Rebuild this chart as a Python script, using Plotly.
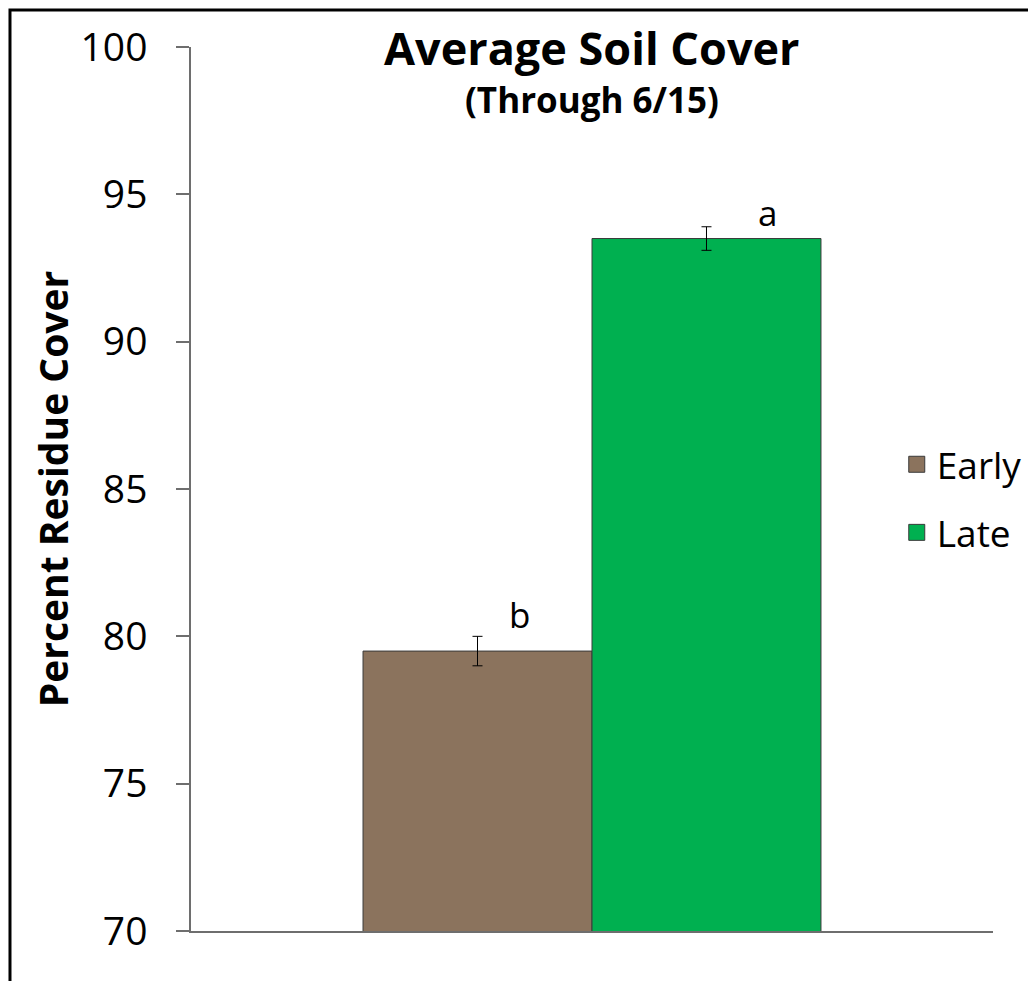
import plotly.graph_objects as go

# Data
categories = ["Average"]
series_names = ["Early", "Late"]
series_values = [79.5, 93.5]
series_errors = [0.5, 0.4]
series_colors = ["#8B735D", "#00B050"]
sig_letters = ["b", "a"]
letter_x = [-0.09, 0.219]
letter_y = [80.75, 94.4]
y_ticks = [70, 75, 80, 85, 90, 95, 100]

FONT = "Open Sans"

fig = go.Figure()
for name, val, err, col in zip(series_names, series_values, series_errors, series_colors):
    fig.add_trace(go.Bar(
        x=categories, y=[val], name=name,
        marker=dict(color=col, line=dict(color="#3a3a3a", width=1)),
        error_y=dict(type="data", array=[err], color="black", thickness=1, width=5),
        showlegend=False,
    ))
# legend proxies (larger square symbols)
for i, (name, col) in enumerate(zip(series_names, series_colors)):
    fig.add_trace(go.Scatter(
        x=[None], y=[None], mode="markers", name=name,
        marker=dict(symbol="square", size=24, color=col, line=dict(color="#3a3a3a", width=1)),
        legendgroup=f"g{i}", showlegend=True,
    ))

for txt, lx, ly in zip(sig_letters, letter_x, letter_y):
    fig.add_annotation(x=lx, y=ly, xref="x", yref="y", text=txt, showarrow=False,
                       font=dict(family=FONT, size=35, color="black"), yanchor="middle")

fig.add_annotation(x=0.5, y=1.0, xref="paper", yref="paper", yanchor="middle",
                   text="<b>Average Soil Cover</b>", showarrow=False,
                   font=dict(family=FONT, size=45, color="black"))
fig.add_annotation(x=0.5, y=0.941, xref="paper", yref="paper", yanchor="middle",
                   text="<b>(Through 6/15)</b>", showarrow=False,
                   font=dict(family=FONT, size=35, color="black"))

# outer frame
fig.add_shape(type="rect", xref="paper", yref="paper", x0=-0.2257, y0=-0.2, x1=1.2, y1=1.0419,
              line=dict(color="black", width=3), fillcolor="rgba(0,0,0,0)", layer="above")

fig.update_layout(
    width=1028, height=973,
    margin=dict(l=183, r=43, t=39, b=50, autoexpand=False),
    paper_bgcolor="white", plot_bgcolor="white",
    barmode="group", bargap=0.429, bargroupgap=0,
    font=dict(family=FONT, color="black"),
    legend=dict(x=0.88, y=0.489, xanchor="left", yanchor="middle",
                font=dict(family=FONT, size=37, color="black"),
                tracegroupgap=17, traceorder="grouped", bgcolor="rgba(0,0,0,0)",
                itemsizing="trace"),
    xaxis=dict(showticklabels=False, showline=True, linecolor="#6e6e6e", linewidth=2,
               ticks="", showgrid=False, zeroline=False, fixedrange=True),
    yaxis=dict(range=[70, 100], tickvals=y_ticks, ticks="outside", ticklen=13,
               tickcolor="#6e6e6e", tickwidth=1.5, showline=True, linecolor="#6e6e6e",
               linewidth=1.5, showgrid=False, zeroline=False, ticklabelstandoff=21,
               tickfont=dict(family=FONT, size=39, color="black"),
               title=dict(text="<b>Percent Residue Cover</b>",
                          font=dict(family=FONT, size=39, color="black"), standoff=0)),
)

fig.write_html("out.html")
